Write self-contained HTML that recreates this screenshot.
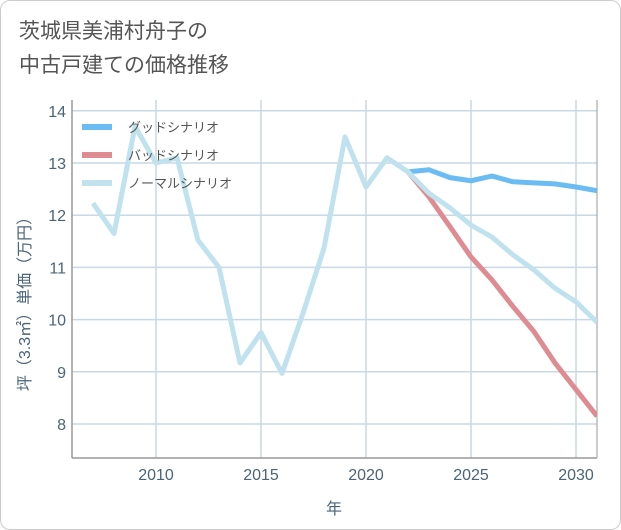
<!DOCTYPE html>
<html><head><meta charset="utf-8"><style>
body{margin:0;background:#fff;}
.wrap{position:relative;width:619px;height:528px;border:1px solid #ccc;border-radius:10px;overflow:hidden;font-family:"Liberation Sans","Noto Sans CJK JP",sans-serif;}
.title{position:absolute;left:18px;top:14px;font-size:21px;line-height:34px;color:#555;}
</style></head><body>
<div class="wrap">
<div class="title">茨城県美浦村舟子の<br>中古戸建ての価格推移</div>
<svg id="c" width="621" height="530" style="position:absolute;left:-1px;top:-1px"></svg>
</div>
<script>
const years=[2007,2008,2009,2010,2011,2012,2013,2014,2015,2016,2017,2018,2019,2020,2021,2022,2023,2024,2025,2026,2027,2028,2029,2030,2031];
const normal=[12.23,11.65,13.7,13.0,13.1,11.52,11.0,9.17,9.75,8.97,10.12,11.37,13.5,12.54,13.1,12.83,12.42,12.14,11.81,11.58,11.24,10.95,10.6,10.34,9.95];
const goodYears=[2022,2023,2024,2025,2026,2027,2028,2029,2030,2031];
const good=[12.83,12.87,12.72,12.66,12.75,12.64,12.62,12.6,12.54,12.47];
const bad=[12.83,12.35,11.78,11.2,10.76,10.25,9.77,9.17,8.66,8.15];
const yTicks=[8,9,10,11,12,13,14];
const xTicks=[2010,2015,2020,2025,2030];
const X0=72,X1=597,Y0=100,Y1=458;
const xs=v=>156+(v-2010)*21;
const ys=v=>163-(v-13)*52.2;
const svg=document.getElementById('c');
const NS='http://www.w3.org/2000/svg';
function mk(t,a,p){const e=document.createElementNS(NS,t);for(const k in a)e.setAttribute(k,a[k]);(p||svg).appendChild(e);return e;}
const defs=mk('defs',{});const cp=mk('clipPath',{id:'pc'},defs);mk('rect',{x:X0,y:Y0,width:X1-X0,height:Y1-Y0},cp);
yTicks.forEach(v=>{const l=mk('line',{x1:X0,x2:X1,y1:ys(v),y2:ys(v),stroke:'#c8d8e4','stroke-width':1.5});

const t=mk('text',{x:X0-6,y:ys(v)+6,'text-anchor':'end','font-size':16,fill:'#4a6478'});t.textContent=v;
});
xTicks.forEach(v=>{const l=mk('line',{x1:xs(v),x2:xs(v),y1:Y0,y2:Y1,stroke:'#c8d8e4','stroke-width':1.5});

const t=mk('text',{x:xs(v),y:Y1+22,'text-anchor':'middle','font-size':16,fill:'#4a6478'});t.textContent=v;
});
mk('line',{x1:X0,x2:X0,y1:Y0,y2:Y1,stroke:'#999','stroke-width':1.5});
mk('line',{x1:X0,x2:X1,y1:Y1,y2:Y1,stroke:'#999','stroke-width':1.5});
mk('line',{x1:X1,x2:X1,y1:Y0,y2:Y1,stroke:'#999','stroke-width':1});
function series(xv,yv,col,name){const p=mk('polyline',{points:xv.map((x,i)=>xs(x)+','+ys(yv[i])).join(' '),fill:'none',stroke:col,'stroke-width':5,'stroke-linejoin':'round','clip-path':'url(#pc)'});
}
series(goodYears,good,'#6bbcf2','good-scenario-line');
series(goodYears,bad,'#de8b91','bad-scenario-line');
series(years,normal,'#bfe2ee','normal-scenario-line');
[['グッドシナリオ','#6bbcf2'],['バッドシナリオ','#de8b91'],['ノーマルシナリオ','#bfe2ee']].forEach((d,i)=>{const y=127+i*28;
const l=mk('line',{x1:82,x2:112,y1:y,y2:y,stroke:d[1],'stroke-width':6});
const t=mk('text',{x:128,y:y+5,'font-size':13,fill:'#555'});t.textContent=d[0];});
const yt=mk('text',{x:0,y:0,'font-size':16,fill:'#4a6478','text-anchor':'middle',transform:'translate(30,300) rotate(-90)'});yt.textContent='坪（3.3㎡）単価（万円）';

const xt=mk('text',{x:334,y:514,'font-size':16,fill:'#4a6478','text-anchor':'middle'});xt.textContent='年';

</script>
</body></html>
